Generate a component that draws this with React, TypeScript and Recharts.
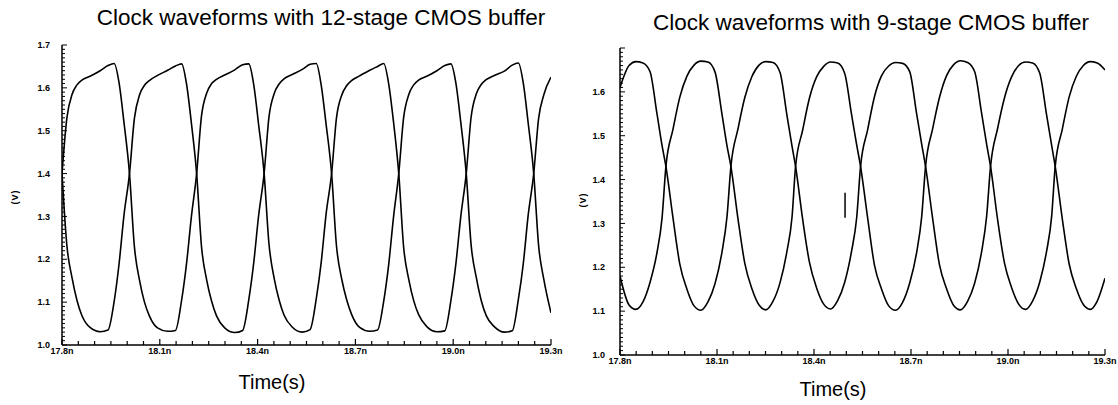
import { LineChart, Line, XAxis, YAxis, ReferenceLine } from 'recharts'

// time in ns, voltage in V
const leftTime = [
  17.800, 17.815, 17.831, 17.846, 17.861, 17.886, 17.917, 17.941, 17.960, 17.975, 17.990,
  18.007, 18.022, 18.038, 18.053, 18.068, 18.093, 18.124, 18.148, 18.167, 18.182, 18.197,
  18.213, 18.228, 18.244, 18.259, 18.274, 18.299, 18.330, 18.354, 18.373, 18.388, 18.403,
  18.420, 18.435, 18.451, 18.466, 18.481, 18.506, 18.537, 18.561, 18.580, 18.595, 18.610,
  18.627, 18.642, 18.658, 18.673, 18.688, 18.713, 18.744, 18.768, 18.787, 18.802, 18.817,
  18.833, 18.848, 18.864, 18.879, 18.894, 18.919, 18.950, 18.974, 18.993, 19.008, 19.023,
  19.040, 19.055, 19.071, 19.086, 19.101, 19.126, 19.157, 19.181, 19.200, 19.215, 19.230,
  19.247, 19.262, 19.278, 19.300,
]
const leftA = [
  1.40, 1.53, 1.585, 1.607, 1.618, 1.627, 1.640, 1.652, 1.657, 1.612, 1.52,
  1.40, 1.23, 1.150, 1.100, 1.068, 1.040, 1.032, 1.034, 1.105, 1.190, 1.30,
  1.40, 1.535, 1.588, 1.610, 1.620, 1.630, 1.642, 1.654, 1.656, 1.608, 1.515,
  1.40, 1.235, 1.155, 1.105, 1.070, 1.042, 1.030, 1.036, 1.108, 1.192, 1.305,
  1.40, 1.53, 1.583, 1.605, 1.617, 1.628, 1.641, 1.650, 1.657, 1.610, 1.52,
  1.40, 1.228, 1.152, 1.103, 1.071, 1.043, 1.031, 1.033, 1.104, 1.188, 1.298,
  1.40, 1.532, 1.586, 1.608, 1.619, 1.629, 1.639, 1.653, 1.658, 1.611, 1.518,
  1.40, 1.232, 1.153, 1.075,
]
const leftB = [
  1.40, 1.232, 1.156, 1.104, 1.069, 1.041, 1.031, 1.035, 1.102, 1.189, 1.302,
  1.40, 1.528, 1.584, 1.606, 1.617, 1.629, 1.641, 1.651, 1.656, 1.609, 1.517,
  1.40, 1.229, 1.151, 1.102, 1.068, 1.040, 1.029, 1.034, 1.106, 1.191, 1.301,
  1.40, 1.533, 1.587, 1.609, 1.621, 1.631, 1.643, 1.655, 1.657, 1.607, 1.516,
  1.40, 1.231, 1.154, 1.106, 1.072, 1.041, 1.032, 1.035, 1.103, 1.187, 1.299,
  1.40, 1.531, 1.585, 1.607, 1.618, 1.627, 1.640, 1.652, 1.656, 1.612, 1.521,
  1.40, 1.233, 1.157, 1.104, 1.069, 1.043, 1.030, 1.033, 1.107, 1.190, 1.303,
  1.40, 1.529, 1.584, 1.625,
]

const rightTime = [
  17.800, 17.828, 17.849, 17.871, 17.893, 17.914, 17.930,
  17.942, 17.964, 17.985, 18.007, 18.029, 18.050, 18.072, 18.094, 18.115, 18.131,
  18.143, 18.165, 18.186, 18.208, 18.230, 18.251, 18.273, 18.295, 18.316, 18.332,
  18.343, 18.365, 18.386, 18.408, 18.430, 18.451, 18.473, 18.495, 18.516, 18.532,
  18.544, 18.566, 18.587, 18.609, 18.631, 18.652, 18.674, 18.696, 18.717, 18.733,
  18.745, 18.767, 18.788, 18.810, 18.832, 18.853, 18.875, 18.897, 18.918, 18.934,
  18.946, 18.968, 18.989, 19.011, 19.033, 19.054, 19.076, 19.098, 19.119, 19.135,
  19.146, 19.168, 19.189, 19.211, 19.233, 19.254, 19.276, 19.300,
]
const rightA = [
  1.610, 1.660, 1.669, 1.666, 1.646, 1.552, 1.478,
  1.43, 1.312, 1.207, 1.150, 1.112, 1.102, 1.121, 1.163, 1.233, 1.316,
  1.43, 1.516, 1.587, 1.635, 1.661, 1.669, 1.667, 1.644, 1.548, 1.476,
  1.43, 1.309, 1.211, 1.153, 1.116, 1.105, 1.124, 1.166, 1.236, 1.313,
  1.43, 1.514, 1.589, 1.637, 1.659, 1.667, 1.665, 1.646, 1.552, 1.481,
  1.43, 1.311, 1.206, 1.151, 1.113, 1.103, 1.122, 1.164, 1.234, 1.317,
  1.43, 1.517, 1.586, 1.634, 1.660, 1.668, 1.666, 1.643, 1.549, 1.478,
  1.43, 1.310, 1.208, 1.152, 1.115, 1.104, 1.123, 1.175,
]
const rightB = [
  1.180, 1.114, 1.104, 1.121, 1.166, 1.232, 1.312,
  1.43, 1.515, 1.588, 1.636, 1.661, 1.670, 1.668, 1.645, 1.551, 1.477,
  1.43, 1.310, 1.209, 1.151, 1.114, 1.103, 1.122, 1.165, 1.235, 1.314,
  1.43, 1.513, 1.586, 1.634, 1.658, 1.668, 1.666, 1.642, 1.549, 1.479,
  1.43, 1.312, 1.205, 1.150, 1.112, 1.102, 1.120, 1.164, 1.232, 1.315,
  1.43, 1.516, 1.587, 1.637, 1.662, 1.671, 1.667, 1.646, 1.553, 1.480,
  1.43, 1.308, 1.210, 1.154, 1.116, 1.104, 1.123, 1.166, 1.235, 1.316,
  1.43, 1.515, 1.588, 1.635, 1.660, 1.669, 1.666, 1.650,
]

const xMajor = [17.8, 18.1, 18.4, 18.7, 19.0, 19.3]
const xLabels = ['17.8n', '18.1n', '18.4n', '18.7n', '19.0n', '19.3n']
const yMajor = [1.0, 1.1, 1.2, 1.3, 1.4, 1.5, 1.6, 1.7]
const leftYLabels = ['1.0', '1.1', '1.2', '1.3', '1.4', '1.5', '1.6', '1.7']
const rightYLabels = ['1.0', '1.1', '1.2', '1.3', '1.4', '1.5', '1.6', '']

const xTicks = Array.from({ length: 31 }, (_, i) => Math.round((17.8 + i * 0.05) * 100) / 100)
const yTicks = Array.from({ length: 71 }, (_, i) => Math.round((1 + i * 0.01) * 100) / 100)

const leftData = leftTime.map((t, i) => ({ t, a: leftA[i], b: leftB[i] }))
const rightData = rightTime.map((t, i) => ({ t, a: rightA[i], b: rightB[i] }))

const sans = '"Liberation Sans", Arial, Helvetica, sans-serif'

function findMajor(list: number[], v: number) {
  return list.findIndex((m) => Math.abs(m - v) < 1e-6)
}

function XTick(props: any) {
  const { x, y, payload } = props
  const i = findMajor(xMajor, payload.value)
  return (
    <g>
      <line x1={x} x2={x} y1={y} y2={y - (i >= 0 ? 6 : 4)} stroke="#000" strokeWidth={1.2} />
      {i >= 0 && (
        <text x={x} y={y + 3} dy="0.72em" textAnchor="middle" fontSize={9} fontWeight="bold" fontFamily={sans} fill="#000">
          {xLabels[i]}
        </text>
      )}
    </g>
  )
}

function makeYTick(labels: string[], gap: number) {
  return function YTick(props: any) {
    const { x, y, payload } = props
    const i = findMajor(yMajor, payload.value)
    return (
      <g>
        <line x1={x} x2={x + (i >= 0 ? 5 : 3)} y1={y} y2={y} stroke="#000" strokeWidth={1} />
        {i >= 0 && labels[i] && (
          <text x={x - gap} y={y} dy="0.35em" textAnchor="end" fontSize={9} fontWeight="bold" fontFamily={sans} fill="#000">
            {labels[i]}
          </text>
        )}
      </g>
    )
  }
}

const LeftYTick = makeYTick(leftYLabels, 12)
const RightYTick = makeYTick(rightYLabels, 15)

function Panel({
  data,
  width,
  yWidth,
  margin,
  YTick,
  marker,
}: {
  data: Array<{ t: number; a: number; b: number }>
  width: number
  yWidth: number
  margin: { top: number; right: number; bottom: number; left: number }
  YTick: any
  marker?: boolean
}) {
  return (
    <LineChart width={width} height={405} data={data} margin={margin}>
      <XAxis
        dataKey="t"
        type="number"
        domain={[17.8, 19.3]}
        ticks={xTicks}
        interval={0}
        allowDataOverflow
        height={30}
        tickSize={0}
        tickMargin={0}
        tickLine={false}
        tick={<XTick />}
        axisLine={{ stroke: '#000', strokeWidth: 1.5 }}
      />
      <YAxis
        type="number"
        domain={[1.0, 1.7]}
        ticks={yTicks}
        interval={0}
        allowDataOverflow
        width={yWidth}
        tickSize={0}
        tickMargin={0}
        tickLine={false}
        tick={<YTick />}
        axisLine={{ stroke: '#000', strokeWidth: 1.5 }}
      />
      <Line type="monotone" dataKey="a" stroke="#000" strokeWidth={1.6} dot={false} isAnimationActive={false} />
      <Line type="monotone" dataKey="b" stroke="#000" strokeWidth={1.6} dot={false} isAnimationActive={false} />
      {marker && (
        <ReferenceLine
          segment={[
            { x: 18.496, y: 1.313 },
            { x: 18.496, y: 1.37 },
          ]}
          stroke="#000"
          strokeWidth={1.5}
        />
      )}
    </LineChart>
  )
}

const abs = (style: any) => ({ position: 'absolute' as const, fontFamily: sans, color: '#000', whiteSpace: 'nowrap' as const, ...style })

export default function App() {
  return (
    <div style={{ position: 'absolute', left: 0, top: 0, width: 1118, height: 405, background: '#fff', overflow: 'hidden' }}>
      <div style={{ position: 'absolute', left: 0, top: 0 }}>
        <Panel data={leftData} width={565} yWidth={50} margin={{ top: 45, right: 14, bottom: 30, left: 12 }} YTick={LeftYTick} />
      </div>
      <div style={{ position: 'absolute', left: 565, top: 0 }}>
        <Panel data={rightData} width={553} yWidth={40} margin={{ top: 48, right: 13, bottom: 20, left: 15 }} YTick={RightYTick} marker />
      </div>

      <div style={abs({ left: 321, top: 18, fontSize: 22.5, transform: 'translate(-50%, -50%)' })}>
        Clock waveforms with 12-stage CMOS buffer
      </div>
      <div style={abs({ left: 871, top: 23, fontSize: 22.5, transform: 'translate(-50%, -50%)' })}>
        Clock waveforms with 9-stage CMOS buffer
      </div>
      <div style={abs({ left: 272, top: 382, fontSize: 20, transform: 'translate(-50%, -50%)' })}>Time(s)</div>
      <div style={abs({ left: 833, top: 389, fontSize: 20, transform: 'translate(-50%, -50%)' })}>Time(s)</div>
      <div style={abs({ left: 15, top: 197, fontSize: 9, fontWeight: 'bold', letterSpacing: 1, transform: 'translate(-50%, -50%) rotate(-90deg)' })}>
        (V)
      </div>
      <div style={abs({ left: 583, top: 200, fontSize: 9, fontWeight: 'bold', letterSpacing: 1, transform: 'translate(-50%, -50%) rotate(-90deg)' })}>
        (V)
      </div>
    </div>
  )
}
